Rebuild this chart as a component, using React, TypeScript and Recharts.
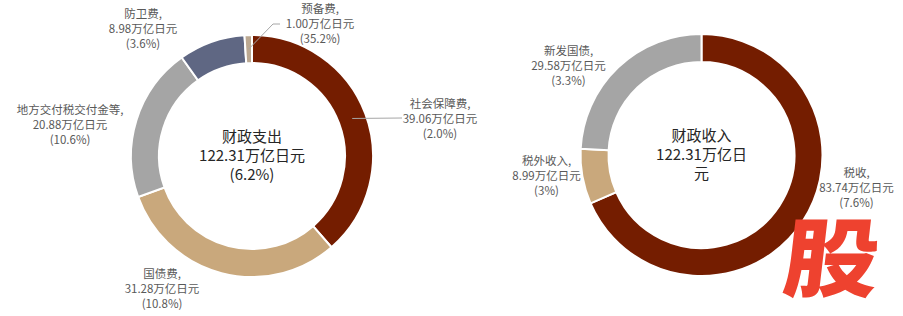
import React from 'react'
import { PieChart, Pie, Cell } from 'recharts'

const expenseNames = ['社会保障费', '国债费', '地方交付税交付金等', '防卫费', '预备费']
const expenseValues = [39.06, 31.28, 20.88, 8.98, 1.0]
const expenseGrowth = ['2.0%', '10.8%', '10.6%', '3.6%', '35.2%']
const expenseCenter = ['财政支出', '122.31万亿日元', '(6.2%)']

const revenueNames = ['税收', '税外收入', '新发国债']
const revenueValues = [83.74, 8.99, 29.58]
const revenueGrowth = ['7.6%', '3%', '3.3%']
const revenueCenter = ['财政收入', '122.31万亿日', '元']

const expenseColors = ['#741d00', '#c9a87c', '#a5a5a5', '#5f6783', '#bba891']
const revenueColors = ['#741d00', '#c9a87c', '#a5a5a5']

// label placement relative to pie centre (middle line of each label), plus optional leader points
const expenseLayout = [
  { dx: 188, dy: -37, line: [[150, -38]] },
  { dx: -90, dy: 133 },
  { dx: -182, dy: -31 },
  { dx: -109, dy: -127 },
  { dx: 68, dy: -132, line: [[21, -132], [28, -132]] },
]
const revenueLayout = [
  { dx: 155, dy: 33 },
  { dx: -155, dy: 21 },
  { dx: -133, dy: -89 },
]

const expenseData = expenseNames.map((name, i) => ({ name, value: expenseValues[i], growth: expenseGrowth[i] }))
const revenueData = revenueNames.map((name, i) => ({ name, value: revenueValues[i], growth: revenueGrowth[i] }))

const RADIAN = Math.PI / 180
const FONT = '"Noto Sans CJK SC", "Noto Sans", sans-serif'

function makeLabel(layout: any[], center: string[]) {
  return (props: any) => {
    const { cx, cy, midAngle, innerRadius, outerRadius, index, payload } = props
    const l = layout[index]
    const x = cx + l.dx
    const y = cy + l.dy
    const r = (innerRadius + outerRadius) / 2
    const sx = cx + r * Math.cos(-midAngle * RADIAN)
    const sy = cy + r * Math.sin(-midAngle * RADIAN)
    const pts = l.line ? [[sx, sy], ...l.line.map((p: number[]) => [cx + p[0], cy + p[1]])] : null
    const d = payload.payload ?? payload
    return (
      <g>
        {pts && (
          <polyline
            points={pts.map((p) => p.join(',')).join(' ')}
            fill="none"
            stroke="#a6a6a6"
            strokeWidth={1}
          />
        )}
        <text x={x} y={y} textAnchor="middle" fill="#595959" fontSize={11.5} fontFamily={FONT}>
          <tspan x={x} dy={-11}>{d.name},</tspan>
          <tspan x={x} dy={15}>{d.value.toFixed(2)}万亿日元</tspan>
          <tspan x={x} dy={15}>({d.growth})</tspan>
        </text>
        {index === 0 && (
          <text x={cx} y={cy} textAnchor="middle" fill="#262626" fontSize={15} fontFamily={FONT}>
            {center.map((t, i) => (
              <tspan key={i} x={cx} y={cy + (i - 1) * 19 + 5}>
                {t}
              </tspan>
            ))}
          </text>
        )}
      </g>
    )
  }
}

export default function App() {
  return (
    <div style={{ position: 'absolute', left: 0, top: 0, width: 903, height: 316, background: '#fff' }}>
      <PieChart width={903} height={316} margin={{ top: 0, right: 0, bottom: 0, left: 0 }}>
        <Pie
          data={expenseData}
          dataKey="value"
          nameKey="name"
          cx={252}
          cy={156}
          innerRadius={93}
          outerRadius={121}
          startAngle={90}
          endAngle={-270}
          stroke="#fff"
          strokeWidth={2}
          label={makeLabel(expenseLayout, expenseCenter)}
          labelLine={false}
          isAnimationActive={false}
        >
          {expenseData.map((_, i) => (
            <Cell key={i} fill={expenseColors[i]} />
          ))}
        </Pie>
        <Pie
          data={revenueData}
          dataKey="value"
          nameKey="name"
          cx={701.5}
          cy={155}
          innerRadius={93}
          outerRadius={121}
          startAngle={90}
          endAngle={-270}
          stroke="#fff"
          strokeWidth={2}
          label={makeLabel(revenueLayout, revenueCenter)}
          labelLine={false}
          isAnimationActive={false}
        >
          {revenueData.map((_, i) => (
            <Cell key={i} fill={revenueColors[i]} />
          ))}
        </Pie>
      </PieChart>
      <div
        style={{
          position: 'absolute',
          left: 790,
          top: 210,
          width: 100,
          fontSize: 100,
          lineHeight: 1,
          fontWeight: 900,
          color: '#ee422f',
          fontFamily: FONT,
          transform: 'scale(0.95, 0.86) skewX(-6deg)',
          transformOrigin: 'left top',
        }}
      >
        股
      </div>
    </div>
  )
}
